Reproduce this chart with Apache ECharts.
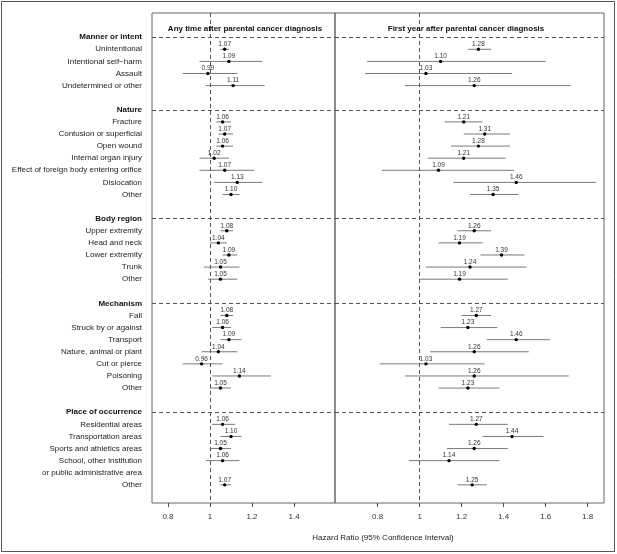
<!DOCTYPE html>
<html>
<head>
<meta charset="utf-8">
<script src="https://cdn.jsdelivr.net/npm/echarts@6/dist/echarts.min.js"></script>
<style>
  html, body { margin: 0; padding: 0; background: #fff; }
  #chart { width: 617px; height: 554px; }
</style>
</head>
<body>
<div id="chart"></div>
<script>
// groups and their categories, in the order they are drawn from the top
var groups = ['Manner or intent', 'Nature', 'Body region', 'Mechanism', 'Place of occurrence'];
var groupItems = [
    ['Unintentional', 'Intentional self\u2212harm', 'Assault', 'Undetermined or other'],
    ['Fracture', 'Contusion or superficial', 'Open wound', 'Internal organ injury',
     'Effect of foreign body entering orifice', 'Dislocation', 'Other'],
    ['Upper extremity', 'Head and neck', 'Lower extremity', 'Trunk', 'Other'],
    ['Fall', 'Struck by or against', 'Transport', 'Nature, animal or plant', 'Cut or pierce', 'Poisoning', 'Other'],
    ['Residential areas', 'Transportation areas', 'Sports and athletics areas',
     'School, other institution\nor public administrative area', 'Other']
];

// any time after diagnosis
var anyHR = [1.07, 1.09, 0.99, 1.11,
             1.06, 1.07, 1.06, 1.02, 1.07, 1.13, 1.10,
             1.08, 1.04, 1.09, 1.05, 1.05,
             1.08, 1.06, 1.09, 1.04, 0.96, 1.14, 1.05,
             1.06, 1.10, 1.05, 1.06, 1.07];
var anyLo = [1.05, 0.95, 0.87, 0.98,
             1.03, 1.04, 1.03, 0.95, 0.95, 1.02, 1.06,
             1.05, 1.00, 1.06, 0.97, 0.99,
             1.05, 1.01, 1.05, 0.96, 0.87, 1.01, 1.00,
             1.01, 1.05, 1.00, 0.98, 1.05];
var anyHi = [1.09, 1.25, 1.13, 1.26,
             1.10, 1.11, 1.11, 1.09, 1.21, 1.25, 1.14,
             1.11, 1.08, 1.13, 1.14, 1.13,
             1.11, 1.10, 1.15, 1.13, 1.06, 1.29, 1.10,
             1.12, 1.15, 1.10, 1.14, 1.10];

// first year after diagnosis
var firstHR = [1.28, 1.10, 1.03, 1.26,
               1.21, 1.31, 1.28, 1.21, 1.09, 1.46, 1.35,
               1.26, 1.19, 1.39, 1.24, 1.19,
               1.27, 1.23, 1.46, 1.26, 1.03, 1.26, 1.23,
               1.27, 1.44, 1.26, 1.14, 1.25];
var firstLo = [1.23, 0.75, 0.74, 0.93,
               1.12, 1.21, 1.15, 1.04, 0.82, 1.16, 1.24,
               1.18, 1.09, 1.29, 1.03, 1.00,
               1.20, 1.10, 1.32, 1.05, 0.81, 0.93, 1.09,
               1.14, 1.30, 1.13, 0.95, 1.18];
var firstHi = [1.34, 1.60, 1.44, 1.72,
               1.30, 1.43, 1.43, 1.41, 1.45, 1.84, 1.47,
               1.34, 1.30, 1.50, 1.51, 1.42,
               1.34, 1.37, 1.62, 1.52, 1.31, 1.71, 1.38,
               1.42, 1.59, 1.42, 1.38, 1.32];

var leftTicks = [0.8, 1, 1.2, 1.4];
var rightTicks = [0.8, 1, 1.2, 1.4, 1.6, 1.8];

var FONT = '"Liberation Sans", Arial, sans-serif';

// lay the rows out: header, items (two-line items take two rows), blank
var rowText = {};
var headerRows = [];
var dataRows = [];
var r = 0;
groups.forEach(function (g, gi) {
    rowText[r] = '{h|' + g + '}';
    headerRows.push(r);
    r++;
    groupItems[gi].forEach(function (item) {
        dataRows.push(r);
        item.split('\n').forEach(function (line) {
            rowText[r] = line;
            r++;
        });
    });
    r++;
});

function buildData(hr, lo, hi) {
    return hr.map(function (v, i) { return [v, dataRows[i], lo[i], hi[i]]; });
}

function renderCI(params, api) {
    var est = api.value(0), row = api.value(1);
    var pLo = api.coord([api.value(2), row]);
    var pHi = api.coord([api.value(3), row]);
    var p = api.coord([est, row]);
    return {
        type: 'group',
        children: [
            { type: 'line', shape: { x1: pLo[0], y1: pLo[1], x2: pHi[0], y2: pHi[1] },
              style: { stroke: '#7a7a7a', lineWidth: 1 } },
            { type: 'circle', shape: { cx: p[0], cy: p[1], r: 1.7 }, style: { fill: '#000' } },
            { type: 'text', x: p[0], y: p[1] - 1.5,
              style: { text: est.toFixed(2), fontSize: 6.5, fontFamily: FONT, fill: '#333',
                       align: 'center', verticalAlign: 'bottom' } }
        ]
    };
}

var dashed = { color: '#555', width: 1, type: [4, 3] };
var refLines = {
    silent: true,
    symbol: 'none',
    label: { show: false },
    lineStyle: dashed,
    data: [{ xAxis: 1 }].concat(headerRows.map(function (h) { return { yAxis: h }; }))
};

function xAxisFor(idx, min, max, ticks) {
    return {
        type: 'value', gridIndex: idx, min: min, max: max, position: 'bottom',
        axisLine: { show: false, onZero: false },
        splitLine: { show: false },
        axisTick: { show: true, inside: false, length: 4, customValues: ticks,
                    lineStyle: { color: '#555' } },
        axisLabel: { customValues: ticks, fontSize: 8, fontFamily: FONT, color: '#333', margin: 10,
                     formatter: function (v) { return String(+v.toFixed(1)); } }
    };
}

function yAxisFor(idx, labels) {
    return {
        type: 'value', gridIndex: idx, inverse: true, min: -2, max: 38.5, interval: 1,
        axisLine: { show: false, onZero: false }, axisTick: { show: false }, splitLine: { show: false },
        axisLabel: {
            show: labels, margin: 10, fontSize: 8, fontFamily: FONT, color: '#222',
            formatter: function (v) { return rowText[v] || ''; },
            rich: { h: { fontSize: 8, fontWeight: 'bold', fontFamily: FONT, color: '#111' } }
        }
    };
}

var chart = echarts.init(document.getElementById('chart'), null, { renderer: 'canvas' });

chart.setOption({
    animation: false,
    backgroundColor: '#fff',
    title: [
        { text: 'Any time after parental cancer diagnosis', left: 240, top: 20, textAlign: 'center',
          textStyle: { fontSize: 8, fontWeight: 'bold', fontFamily: FONT, color: '#111' } },
        { text: 'First year after parental cancer diagnosis', left: 461, top: 20, textAlign: 'center',
          textStyle: { fontSize: 8, fontWeight: 'bold', fontFamily: FONT, color: '#111' } },
        { text: 'Hazard Ratio (95% Confidence Interval)', left: 378, top: 529, textAlign: 'center',
          textStyle: { fontSize: 8, fontWeight: 'normal', fontFamily: FONT, color: '#222' } }
    ],
    grid: [
        { left: 152, top: 13, width: 183, height: 490, show: true, borderColor: '#666', borderWidth: 1 },
        { left: 335, top: 13, width: 269, height: 490, show: true, borderColor: '#666', borderWidth: 1 }
    ],
    xAxis: [
        xAxisFor(0, 0.724, 1.595, leftTicks),
        xAxisFor(1, 0.597, 1.878, rightTicks)
    ],
    yAxis: [yAxisFor(0, true), yAxisFor(1, false)],
    graphic: [
        { type: 'rect', shape: { x: 1.5, y: 1.5, width: 613, height: 550 },
          style: { fill: 'none', stroke: '#555', lineWidth: 1 }, silent: true }
    ],
    series: [
        { type: 'custom', xAxisIndex: 0, yAxisIndex: 0, renderItem: renderCI,
          encode: { x: [0, 2, 3], y: 1 }, data: buildData(anyHR, anyLo, anyHi), markLine: refLines },
        { type: 'custom', xAxisIndex: 1, yAxisIndex: 1, renderItem: renderCI,
          encode: { x: [0, 2, 3], y: 1 }, data: buildData(firstHR, firstLo, firstHi), markLine: refLines }
    ]
});
</script>
</body>
</html>
